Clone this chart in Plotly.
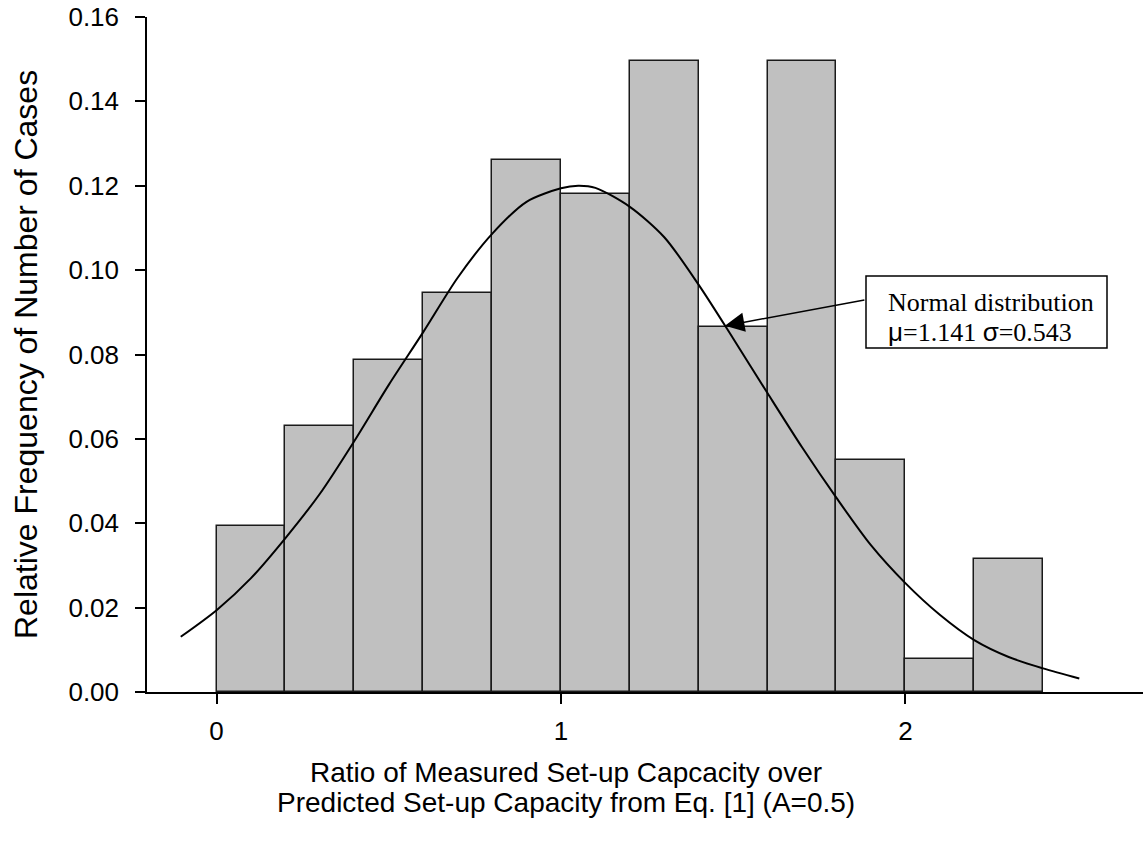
import plotly.graph_objects as go

# Histogram bins (relative frequency)
bin_centers = [0.1, 0.3, 0.5, 0.7, 0.9, 1.1, 1.3, 1.5, 1.7, 1.9, 2.1, 2.3]
bin_width = 0.2
rel_freq = [0.0394, 0.0630, 0.0787, 0.0945, 0.1260, 0.1181, 0.1496, 0.0866, 0.1496, 0.0551, 0.0079, 0.0315]

# Normal curve points
curve_x = [-0.104, 0.0, 0.1, 0.2, 0.3, 0.4, 0.5, 0.6, 0.7, 0.8, 0.9, 1.0, 1.05, 1.1, 1.2,
           1.3, 1.4, 1.5, 1.6, 1.7, 1.8, 1.9, 2.0, 2.1, 2.2, 2.3, 2.4, 2.505]
curve_y = [0.0131, 0.0194, 0.0270, 0.0365, 0.0470, 0.0595, 0.0728, 0.0853, 0.0982, 0.1086, 0.1162,
           0.1194, 0.1200, 0.1195, 0.1150, 0.1078, 0.0965, 0.0838, 0.0708, 0.0580, 0.0460, 0.0348,
           0.0258, 0.0183, 0.0123, 0.0083, 0.0056, 0.0032]

x_tickvals = [0, 1, 2]
x_ticktext = ["0", "1", "2"]
y_tickvals = [0.00, 0.02, 0.04, 0.06, 0.08, 0.10, 0.12, 0.14, 0.16]

note_line1 = "Normal distribution"
note_line2 = ("<span style='font-family:Liberation Sans, Arial, sans-serif'>μ</span>=1.141 "
              "<span style='font-family:Liberation Sans, Arial, sans-serif'>σ</span>=0.543")
arrow_tip = (1.476, 0.0868)

W, H = 1143, 844
L, R, T, B = 147, 0, 17, 152
pw, ph = W - L - R, H - T - B

def px_x(p):
    return (p - L) / pw

def px_y(p):
    return (H - B - p) / ph

fig = go.Figure()
fig.add_trace(go.Bar(
    x=bin_centers, y=rel_freq, width=[bin_width] * len(bin_centers),
    marker=dict(color="#c0c0c0", line=dict(color="#1a1a1a", width=1.5)),
    showlegend=False, hoverinfo="skip"))
fig.add_trace(go.Scatter(
    x=curve_x, y=curve_y, mode="lines",
    line=dict(color="#000000", width=2, shape="spline", smoothing=0.8),
    showlegend=False, hoverinfo="skip"))

axis_font = dict(family="Liberation Sans, Arial, sans-serif", size=26, color="#000000")

fig.update_layout(
    width=W, height=H,
    margin=dict(l=L, r=R, t=T, b=B, pad=0),
    paper_bgcolor="#ffffff", plot_bgcolor="#ffffff",
    bargap=0,
    xaxis=dict(range=[-0.202, 2.69], showgrid=False, zeroline=False,
               showline=True, linecolor="#000000", linewidth=1.5,
               ticks="outside", ticklen=10, tickwidth=1.5, tickcolor="#000000",
               tickvals=x_tickvals, ticktext=x_ticktext, tickfont=axis_font,
               ticklabelstandoff=5),
    yaxis=dict(range=[0, 0.16], showgrid=False, zeroline=False,
               showline=True, linecolor="#000000", linewidth=1.5,
               ticks="outside", ticklen=10, tickwidth=1.5, tickcolor="#000000",
               tickvals=y_tickvals, tickformat=".2f", tickfont=axis_font,
               ticklabelstandoff=11),
)

title_font = dict(family="Liberation Sans, Arial, sans-serif", size=28, color="#000000")
# Axis titles
fig.add_annotation(xref="paper", yref="paper", x=px_x(566), y=px_y(772),
                   text="Ratio of Measured Set-up Capcacity over",
                   showarrow=False, xanchor="center", yanchor="middle", font=title_font)
fig.add_annotation(xref="paper", yref="paper", x=px_x(566), y=px_y(802),
                   text="Predicted Set-up Capacity from Eq. [1] (A=0.5)",
                   showarrow=False, xanchor="center", yanchor="middle", font=title_font)
fig.add_annotation(xref="paper", yref="paper", x=px_x(26), y=px_y(355),
                   text="Relative Frequency of Number of Cases", textangle=-90,
                   showarrow=False, xanchor="center", yanchor="middle",
                   font=dict(family="Liberation Sans, Arial, sans-serif", size=32, color="#000000"))

# Annotation box
fig.add_shape(type="rect", xref="paper", yref="paper",
              x0=px_x(866), x1=px_x(1107), y0=px_y(348), y1=px_y(276),
              line=dict(color="#000000", width=1.5), fillcolor="#ffffff", layer="above")
serif = dict(family="Liberation Serif, Times New Roman, serif", size=26, color="#000000")
fig.add_annotation(xref="paper", yref="paper", x=px_x(886), y=px_y(302),
                   text=note_line1, showarrow=False, xanchor="left", yanchor="middle", font=serif)
fig.add_annotation(xref="paper", yref="paper", x=px_x(886), y=px_y(332),
                   text=note_line2, showarrow=False, xanchor="left", yanchor="middle", font=serif)
# Arrow
fig.add_annotation(xref="x", yref="y", x=arrow_tip[0], y=arrow_tip[1],
                   ax=141, ay=-26, axref="pixel", ayref="pixel",
                   text="", showarrow=True, arrowhead=2, arrowsize=2.6,
                   arrowwidth=1.5, arrowcolor="#000000")

fig.write_html("out.html")
